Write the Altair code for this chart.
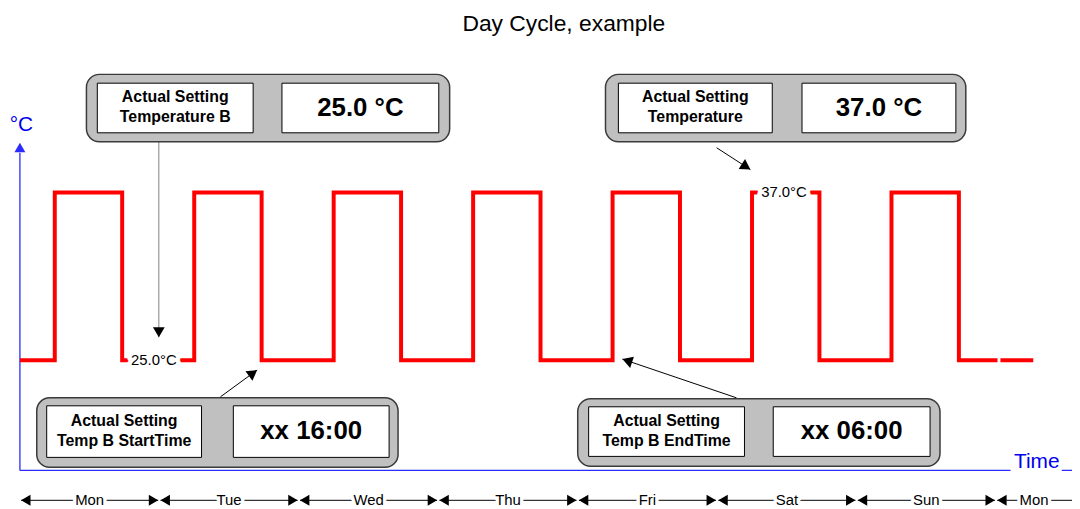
import math
import altair as alt
import pandas as pd

# ---------------- data ----------------
DAYS = ["Mon", "Tue", "Wed", "Thu", "Fri", "Sat", "Sun", "Mon"]
DAY_LEN_H = 24.0
RISE_H = [6.0, 30.0, 54.0, 78.0, 102.0, 126.0, 150.0]      # hours since Monday 00:00
FALL_H = [17.6, 41.6, 65.6, 89.6, 113.6, 137.6, 161.6]
TEMP_LOW = 25.0
TEMP_HIGH = 37.0
TRACE_START_H = 0.0
TRACE_BREAK_H = [168.25, 168.75]
TRACE_END_H = 174.4

LEVEL_LABELS = ["25.0°C", "37.0°C"]
PANEL_CAPTIONS = ["Actual Setting\nTemperature B", "Actual Setting\nTemperature",
                  "Actual Setting\nTemp B StartTime", "Actual Setting\nTemp B EndTime"]
PANEL_VALUES = ["25.0 °C", "37.0 °C", "xx 16:00", "xx 06:00"]
TITLE = "Day Cycle, example"

# ---------------- chart frame (scales) ----------------
W, H = 1072, 501
KX = 140.5 / 24.0          # px per hour
KY = 169.0 / 12.0          # px per °C
X0 = -12.0 / KX
X1 = X0 + W / KX
Y_TOP = TEMP_LOW + 353.0 / KY
Y_BOT = Y_TOP - H / KY

FONT = "Liberation Sans"
BLUE = "#2b2bff"

xs = alt.Scale(domain=[X0, X1], nice=False, zero=False)
ys = alt.Scale(domain=[Y_BOT, Y_TOP], nice=False, zero=False)


def X(f="h"):
    return alt.X(f"{f}:Q", scale=xs, axis=None)


def Y(f="t"):
    return alt.Y(f"{f}:Q", scale=ys, axis=None)


# ---------------- red temperature trace ----------------
pts = [(TRACE_START_H, TEMP_LOW, 0)]
for r, f in zip(RISE_H, FALL_H):
    pts += [(r, TEMP_LOW, 0), (r, TEMP_HIGH, 0), (f, TEMP_HIGH, 0), (f, TEMP_LOW, 0)]
pts += [(TRACE_BREAK_H[0], TEMP_LOW, 0), (TRACE_BREAK_H[1], TEMP_LOW, 1), (TRACE_END_H, TEMP_LOW, 1)]
trace_df = pd.DataFrame([{"h": h, "t": t, "seg": s, "i": i} for i, (h, t, s) in enumerate(pts)])
trace = alt.Chart(trace_df).mark_line(
    color="#ff0000", strokeWidth=4, strokeJoin="miter", strokeCap="butt"
).encode(x=X(), y=Y(), detail="seg:N", order="i:Q")

# level labels sitting on the trace
lvl_df = pd.DataFrame({"h": [23.06, 131.5], "t": [TEMP_LOW, TEMP_HIGH], "txt": LEVEL_LABELS})
lvl_halo = alt.Chart(lvl_df).mark_text(font=FONT, fontSize=15, fill="white", stroke="white",
                                       strokeWidth=9, strokeJoin="round").encode(x=X(), y=Y(), text="txt:N")
lvl_text = alt.Chart(lvl_df).mark_text(font=FONT, fontSize=15, color="black").encode(x=X(), y=Y(), text="txt:N")

# ---------------- panels ----------------
outer_df = pd.DataFrame({
    "h": [11.45, 100.78, 2.90, 96.00], "h2": [73.96, 162.79, 65.08, 158.35],
    "t": [45.45, 45.45, 22.31, 22.24], "t2": [40.63, 40.63, 17.34, 17.41]})
outer = alt.Chart(outer_df).mark_rect(fill="#c0c0c0", stroke="#3a3a3a", strokeWidth=1.5,
                                      cornerRadius=13).encode(x=X(), x2="h2:Q", y=Y(), y2="t2:Q")
inner_df = pd.DataFrame({
    "h": [13.32, 45.10, 103.00, 134.60, 4.61, 36.73, 97.88, 129.65],
    "h2": [40.14, 72.09, 129.48, 161.08, 31.26, 63.54, 124.70, 156.64],
    "t": [44.82] * 4 + [21.74, 21.74, 21.67, 21.67],
    "t2": [41.27] * 4 + [18.05, 18.05, 18.12, 18.12]})
inner = alt.Chart(inner_df).mark_rect(fill="white", stroke="black", strokeWidth=1).encode(
    x=X(), x2="h2:Q", y=Y(), y2="t2:Q")
cap_df = pd.DataFrame({"h": [26.73, 116.24, 17.94, 111.29], "t": [43.85, 43.85, 20.63, 20.63],
                       "txt": PANEL_CAPTIONS})
caps = alt.Chart(cap_df).mark_text(font=FONT, fontSize=16, fontWeight="bold", lineBreak="\n",
                                   lineHeight=20, color="black").encode(x=X(), y=Y(), text="txt:N")
val_df = pd.DataFrame({"h": [58.59, 147.84, 50.13, 143.14], "t": [43.05, 43.05, 19.9, 19.9],
                       "txt": PANEL_VALUES})
vals = alt.Chart(val_df).mark_text(font=FONT, fontSize=26, fontWeight="bold", color="black").encode(
    x=X(), y=Y(), text="txt:N")

# ---------------- arrows ----------------


def head(tip_h, tip_t, tail_h, tail_t, size, color):
    dx = (tip_h - tail_h) * KX
    dy = -(tip_t - tail_t) * KY
    L = math.hypot(dx, dy)
    ux, uy = dx / L, dy / L
    ang = math.degrees(math.atan2(ux, -uy)) % 360
    hh = 0.866 * math.sqrt(size) / 2
    return {"h": tip_h - hh * ux / KX, "t": tip_t + hh * uy / KY, "ang": ang, "size": size, "c": color}


callouts = [  # tail_h, tail_t, tip_h, tip_t, colour
    (23.91, 40.63, 23.91, 26.64, "#808080"),
    (119.91, 40.20, 125.72, 38.64, "black"),
    (34.51, 22.38, 40.83, 24.30, "black"),
    (123.33, 22.31, 103.69, 25.08, "black"),
]
rules = []
heads = []
for th, tt, ph, pt, c in callouts:
    rules.append({"h": th, "t": tt, "h2": ph, "t2": pt, "c": c, "w": 1.0})
    heads.append(head(ph, pt, th, tt, 140, "black"))

# axes
AX_T = 17.12
rules.append({"h": 0.0, "t": AX_T, "h2": 0.0, "t2": 39.85, "c": BLUE, "w": 1.3})
rules.append({"h": 0.0, "t": AX_T, "h2": 170.48, "t2": AX_T, "c": BLUE, "w": 1.3})
rules.append({"h": 179.3, "t": AX_T, "h2": X1, "t2": AX_T, "c": BLUE, "w": 1.3})
heads.append(head(0.0, 40.56, 0.0, 30.0, 121, BLUE))

# day span arrows
ROW_T = 14.98
day_lab = []
for i, d in enumerate(DAYS):
    s = i * DAY_LEN_H
    e = (i + 1) * DAY_LEN_H
    ls, le = s + 0.2, e - 0.2
    rules.append({"h": ls, "t": ROW_T, "h2": le, "t2": ROW_T, "c": "black", "w": 1.0})
    heads.append(head(ls, ROW_T, ls + 5, ROW_T, 120, "black"))
    heads.append(head(le, ROW_T, le - 5, ROW_T, 120, "black"))
    day_lab.append({"h": (s + min(e, X1)) / 2, "t": ROW_T, "txt": d})

rule_df = pd.DataFrame(rules)
rule_layer = alt.Chart(rule_df).mark_rule().encode(
    x=X(), x2="h2:Q", y=Y(), y2="t2:Q",
    color=alt.Color("c:N", scale=None), strokeWidth=alt.StrokeWidth("w:Q", scale=None))
head_df = pd.DataFrame(heads)
head_layer = alt.Chart(head_df).mark_point(shape="triangle-up", filled=True, opacity=1, strokeWidth=0).encode(
    x=X(), y=Y(), angle=alt.Angle("ang:Q", scale=None), size=alt.Size("size:Q", scale=None),
    color=alt.Color("c:N", scale=None))

day_df = pd.DataFrame(day_lab)
day_halo = alt.Chart(day_df).mark_text(font=FONT, fontSize=15, fill="white", stroke="white",
                                       strokeWidth=7, strokeJoin="round").encode(x=X(), y=Y(), text="txt:N")
day_text = alt.Chart(day_df).mark_text(font=FONT, fontSize=15, color="black").encode(x=X(), y=Y(), text="txt:N")

# axis labels and title
axlab_df = pd.DataFrame({"h": [0.26, 175.0], "t": [41.83, 17.75], "txt": ["°C", "Time"]})
axlab = alt.Chart(axlab_df).mark_text(font=FONT, fontSize=21, color="#0000ee").encode(x=X(), y=Y(), text="txt:N")
title_df = pd.DataFrame({"h": [93.61], "t": [49.08], "txt": [TITLE]})
title = alt.Chart(title_df).mark_text(font=FONT, fontSize=23, color="black").encode(x=X(), y=Y(), text="txt:N")

chart = alt.layer(
    rule_layer, outer, inner, caps, vals, trace, lvl_halo, lvl_text, head_layer,
    day_halo, day_text, axlab, title
).properties(
    width=W, height=H, padding=0, autosize=alt.AutoSizeParams(type="none"), background="white"
).configure_view(stroke=None)

chart.save("out.html", embed_options={"renderer": "svg", "actions": False})
